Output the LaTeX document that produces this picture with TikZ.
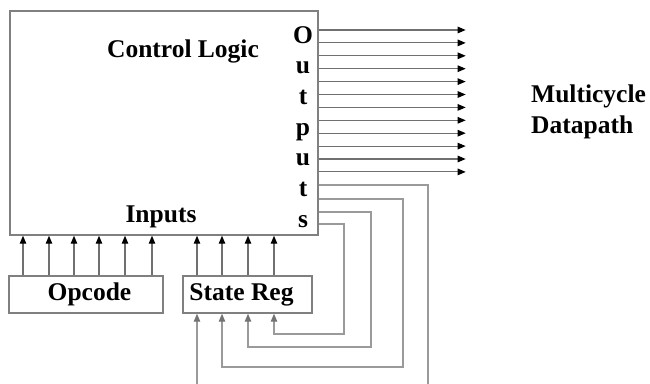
\documentclass[tikz,border=0pt]{standalone}
\usepackage{fontspec}
\setmainfont{Liberation Serif}
\usetikzlibrary{arrows.meta}
\definecolor{boxgray}{HTML}{808080}
\definecolor{linegray}{HTML}{707070}
\definecolor{fbgray}{HTML}{9A9A9A}
\tikzset{
  lbl/.style={font=\fontsize{25.5}{30}\selectfont\bfseries, inner sep=0pt, anchor=base},
  mainbox/.style={draw=boxgray, line width=1.4pt, minimum width=308pt, minimum height=224pt, inner sep=0pt},
  regbox/.style={draw=boxgray, line width=1.4pt, minimum height=37pt, inner sep=0pt, font=\fontsize{25.5}{30}\selectfont\bfseries},
  arr/.style={draw=linegray, line width=1.1pt, -{Triangle[length=8pt,width=6.5pt,fill=black,color=black]}},
  fb/.style={draw=fbgray, line width=1.1pt},
  fbarr/.style={fb, -{Triangle[length=8pt,width=6.5pt,color=fbgray!75!black]}}
}
\begin{document}
\begin{tikzpicture}[x=1pt,y=-1pt]
\useasboundingbox (0,0) rectangle (650,383);
\node[mainbox] (ctrl) at (164,123) {};
\node[regbox, minimum width=154pt] (opc) at (86,294.5) {\hspace*{7pt}Opcode};
\node[regbox, minimum width=129pt] (sr) at (247.5,294.5) {State Reg\hspace*{12pt}};
\node[lbl] (cl) at (183,57) {Control Logic};
\node[lbl] (inp) at (161,222) {Inputs};
\foreach \ch [count=\i from 0] in {O,u,t,p,u,t,s}
  \node[lbl] (o\i) at (303,43+30.7*\i) {\ch};
\node[lbl, anchor=base west] (mc) at (531,102) {Multicycle};
\node[lbl, anchor=base west] (dp) at (531,133) {Datapath};
% output arrows
\foreach \k in {0,...,11}
  \draw[arr] (ctrl.east |- 0,{30+12.9*\k}) -- ++(147,0);
% input arrows
\foreach \x in {23,49,74,99,125,152}
  \draw[arr] (opc.north -| \x,0) -- (ctrl.south -| \x,0);
\foreach \x in {197,222,248,274}
  \draw[arr] (sr.north -| \x,0) -- (ctrl.south -| \x,0);
% feedback
\coordinate (fbout) at (428,385);
\coordinate (fbin) at (197,385);
\draw[fb] (ctrl.east |- 0,185) -| (fbout);
\draw[fbarr] (ctrl.east |- 0,199) -| (403,367) -| (sr.south -| 222,0);
\draw[fbarr] (ctrl.east |- 0,212) -| (371,347) -| (sr.south -| 248,0);
\draw[fbarr] (ctrl.east |- 0,224) -| (344,334) -| (sr.south -| 274,0);
\draw[fbarr] (fbin) -- (sr.south -| fbin);
\end{tikzpicture}
\end{document}
